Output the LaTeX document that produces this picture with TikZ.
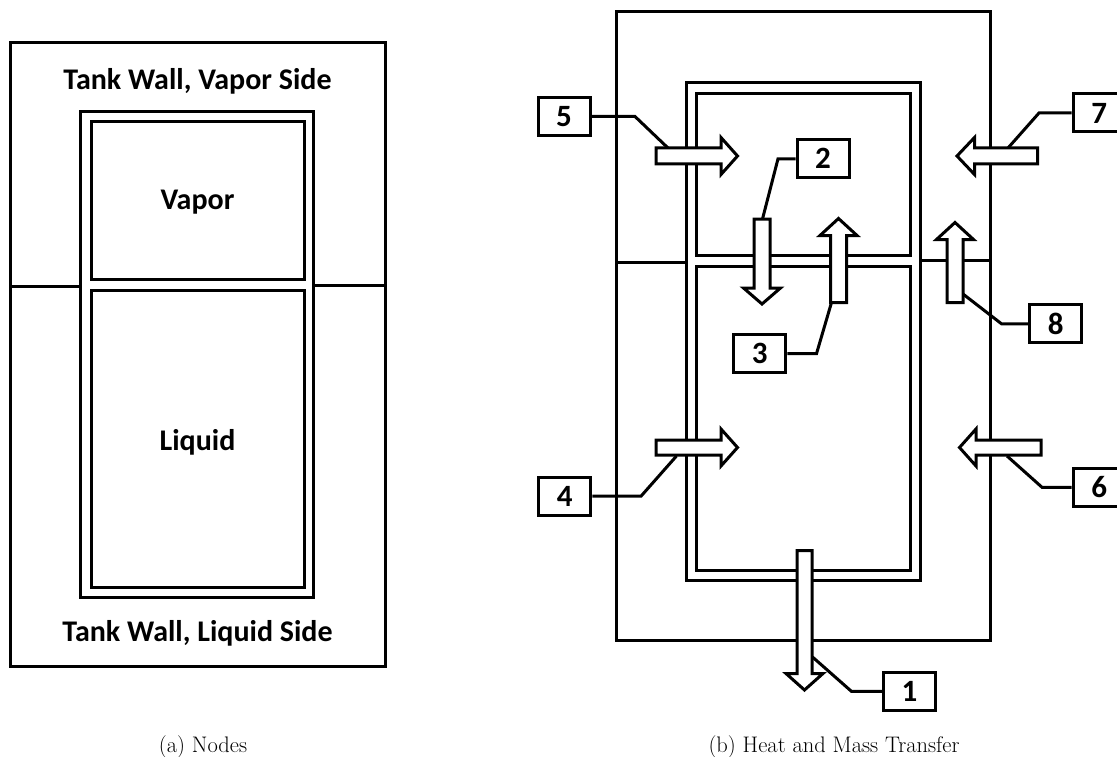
\documentclass[tikz,border=0pt]{standalone}
\usepackage{fontspec}
\newfontfamily\lblfont{Carlito}
\begin{document}
\begin{tikzpicture}[x=1pt,y=-1pt,
  wall/.style={line width=3pt, line join=miter},
  lbl/.style={font=\lblfont\bfseries\fontsize{30}{36}\selectfont, anchor=base, inner sep=0},
  numbox/.style={draw, line width=3pt, fill=white, minimum width=52pt, minimum height=38pt, inner sep=0, font=\lblfont\bfseries\fontsize{31}{36}\selectfont},
  leader/.style={line width=3pt, line join=miter},
  barrow/.style={draw, line width=3pt, fill=white, line join=miter},
  capt/.style={font=\fontsize{22.5}{27}\selectfont, anchor=base, inner sep=0}
]
\useasboundingbox (0,0) rectangle (1117,757);

% ---------------- (a) Nodes ----------------
\draw[wall] (10.5,43) rectangle (385,666);
\draw[wall] (10.5,286) -- (80.7,286);
\draw[wall] (313.3,285) -- (385,285);
\draw[wall] (80.7,111.7) rectangle (313.3,597.7);
\draw[wall] (91,122) rectangle (304,279.3);
\draw[wall] (91,290.7) rectangle (304,587.7);
\node[lbl] (twv) at (197.5,89.3) {Tank Wall, Vapor Side};
\node[lbl] (vap) at (197.5,209) {Vapor};
\node[lbl] (liq) at (197.5,450) {Liquid};
\node[lbl] (twl) at (197.5,641) {Tank Wall, Liquid Side};
\node[capt] (capa) at (203,752) {(a) Nodes};

% ---------------- (b) Heat and Mass Transfer ----------------
\draw[wall] (616,11.7) rectangle (990.7,640);
\draw[wall] (616,262.3) -- (686.3,262.3);
\draw[wall] (920,260) -- (990.7,260);
\draw[wall] (686.3,82.7) rectangle (920,580);
\draw[wall] (696.3,93.3) rectangle (910,255.7);
\draw[wall] (696.3,266) rectangle (910,570);

% label boxes
\node[numbox] (b5) at (564,116.5) {5};
\node[numbox] (b2) at (823,158.8) {2};
\node[numbox] (b3) at (759.8,353.7) {3};
\node[numbox] (b8) at (1055.8,323.8) {8};
\node[numbox] (b4) at (564.8,496.2) {4};
\node[numbox] (b1) at (909.5,691.4) {1};
\node[numbox] (b7) at (1099.2,113) {7};
\node[numbox] (b6) at (1099.2,487.3) {6};

% leader end points on the arrows
\coordinate (a5) at (668,148);
\coordinate (a7) at (1008,148);
\coordinate (a2) at (762.5,219);
\coordinate (a3) at (831.5,302.5);
\coordinate (a8) at (963,294);
\coordinate (a4) at (676.5,456);
\coordinate (a6) at (1007,456);
\coordinate (a1) at (812.5,657);

% leaders
\draw[leader] (b5.east) -- (635,116.5) -- (a5);
\draw[leader] (b7.west) -- (1039,113) -- (a7);
\draw[leader] (b2.west) -- (778,158.8) -- (a2);
\draw[leader] (b3.east) -- (816.5,353.7) -- (a3);
\draw[leader] (b8.west) -- (1001.5,323.8) -- (a8);
\draw[leader] (b4.east) -- (641,496.2) -- (a4);
\draw[leader] (b6.west) -- (1042,487.3) -- (a6);
\draw[leader] (b1.west) -- (851.5,691.4) -- (a1);

% block arrows
% 5 (right)
\draw[barrow] (656,148) -- (721,148) -- (721,137.5) -- (737.5,156) -- (721,174.5) -- (721,164) -- (656,164) -- cycle;
% 4 (right)
\draw[barrow] (656,440) -- (721,440) -- (721,429) -- (737.5,447.5) -- (721,466) -- (721,455) -- (656,455) -- cycle;
% 7 (left)
\draw[barrow] (1037.5,148) -- (974.5,148) -- (974.5,137.5) -- (957,156) -- (974.5,174.5) -- (974.5,164) -- (1037.5,164) -- cycle;
% 6 (left)
\draw[barrow] (1041,440) -- (976,440) -- (976,429) -- (959.5,447.5) -- (976,466) -- (976,455) -- (1041,455) -- cycle;
% 2 (down)
\draw[barrow] (754,219) -- (754,288) -- (743.5,288) -- (762,304) -- (780.5,288) -- (770,288) -- (770,219) -- cycle;
% 3 (up)
\draw[barrow] (830.5,302.5) -- (830.5,235.5) -- (820,235.5) -- (838.5,218.5) -- (857,235.5) -- (846.5,235.5) -- (846.5,302.5) -- cycle;
% 8 (up)
\draw[barrow] (947,302.5) -- (947,239.5) -- (936.5,239.5) -- (955,222.5) -- (973.5,239.5) -- (963,239.5) -- (963,302.5) -- cycle;
% 1 (down)
\draw[barrow] (797,550.5) -- (797,673.5) -- (786,673.5) -- (804.5,690) -- (823,673.5) -- (812,673.5) -- (812,550.5) -- cycle;

\node[capt] (capb) at (834,752) {(b) Heat and Mass Transfer};
\end{tikzpicture}
\end{document}
